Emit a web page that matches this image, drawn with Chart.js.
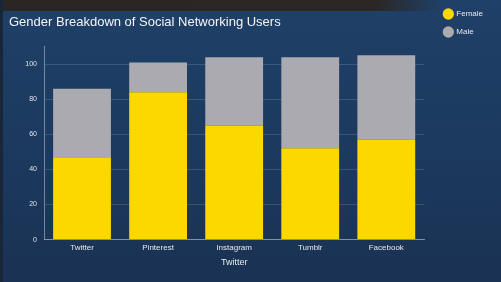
<!DOCTYPE html>
<html>
<head>
<meta charset="utf-8">
<script src="https://cdn.jsdelivr.net/npm/chart.js@4/dist/chart.umd.min.js"></script>
<style>
  html, body { margin: 0; padding: 0; width: 501px; height: 282px; overflow: hidden; background: #1c3a5e; }
  #wrap { position: absolute; left: 0; top: 0; width: 501px; height: 282px;
          background: linear-gradient(to bottom, #1f4068 0%, #1c3a5f 50%, #1a3253 100%); }
  #band { position: absolute; left: 0; top: 0; width: 501px; height: 11px;
          background: linear-gradient(to right, #2a2624 0%, #2b2725 75%, rgba(30,60,95,0) 88%); }
  #edge { position: absolute; left: 0; top: 0; width: 3px; height: 282px; background: #18263a; }
  canvas { position: absolute; left: 0; top: 0; }
</style>
</head>
<body>
<div id="wrap"></div>
<div id="band"></div>
<div id="edge"></div>
<canvas id="c" width="501" height="282"></canvas>
<script>
const categories = ["Twitter", "Pinterest", "Instagram", "Tumblr", "Facebook"];
const femaleValues = [47, 84, 65, 52, 57];
const maleValues = [39, 17, 39, 52, 48];
const yTickValues = [0, 20, 40, 60, 80, 100];
const titleText = "Gender Breakdown of Social Networking Users";
const xAxisTitle = "Twitter";

const FONT = "Liberation Sans, Arial, sans-serif";

new Chart(document.getElementById("c"), {
  type: "bar",
  data: {
    labels: categories,
    datasets: [
      { label: "Female", data: femaleValues, backgroundColor: "#fdd800", borderWidth: 0 },
      { label: "Male", data: maleValues, backgroundColor: "#abaab0", borderWidth: 0 }
    ]
  },
  options: {
    responsive: false,
    animation: false,
    devicePixelRatio: 1,
    layout: { padding: { left: 9, top: 0, right: 8, bottom: 14 } },
    datasets: { bar: { categoryPercentage: 0.8, barPercentage: 0.95 } },
    plugins: {
      title: {
        display: true, text: titleText, align: "start", color: "#f2f4f8",
        font: { family: FONT, size: 13, weight: "normal" },
        padding: { top: 15, bottom: 16 }
      },
      legend: {
        position: "right", align: "start",
        labels: {
          color: "#e6e8ee", usePointStyle: true, pointStyle: "circle",
          boxWidth: 9, boxHeight: 9, padding: 10,
          font: { family: FONT, size: 8 }
        }
      },
      tooltip: { enabled: false }
    },
    scales: {
      x: {
        stacked: true,
        grid: { display: false, drawTicks: false },
        border: { display: true, color: "rgba(190,200,215,0.55)" },
        ticks: { color: "#e6e8ee", padding: 3, font: { family: FONT, size: 8 } },
        title: { display: true, text: xAxisTitle, color: "#e6e8ee", padding: { top: 2, bottom: 0 },
                 font: { family: FONT, size: 9 } }
      },
      y: {
        stacked: true, min: 0, max: 110,
        afterBuildTicks: (axis) => { axis.ticks = yTickValues.map(v => ({ value: v })); },
        afterFit: (axis) => { axis.width = 35; },
        grid: { color: "rgba(170,185,205,0.22)", drawTicks: false },
        border: { display: true, color: "rgba(190,200,215,0.55)" },
        ticks: { color: "#e0e3ea", padding: 7, font: { family: FONT, size: 7 } }
      },
      spacer: {
        type: "linear", position: "right", display: true,
        grid: { display: false, drawTicks: false },
        border: { display: false },
        ticks: { display: false },
        afterFit: (axis) => { axis.width = 10; }
      }
    }
  }
});
</script>
</body>
</html>
